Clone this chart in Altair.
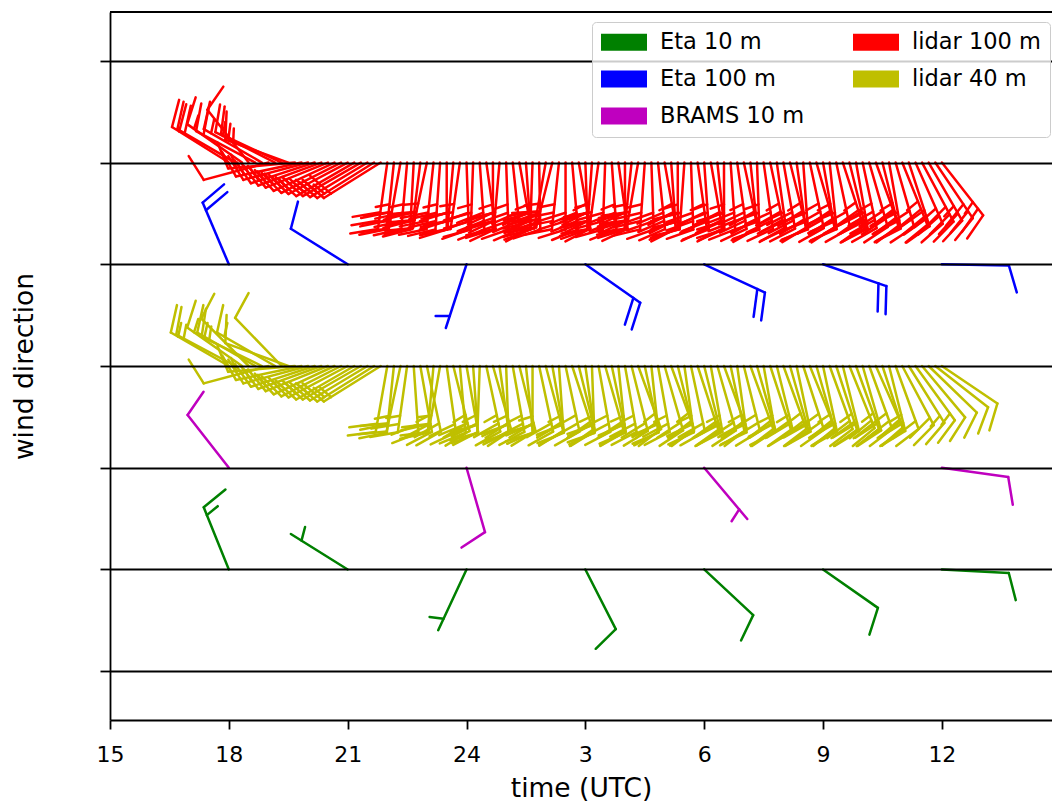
import altair as alt
import numpy as np
import pandas as pd

# ---------------- data ----------------
# time in hours from 00 UTC of the first day (27 = 03 UTC next day)
model_times = [18, 21, 24, 27, 30, 33, 36]
eta10_dir = [338, 302, 205, 153, 133, 125, 93]
eta10_spd = [15, 5, 5, 10, 10, 10, 10]
eta100_dir = [337, 302, 198, 125, 115, 109, 91]
eta100_spd = [20, 10, 5, 20, 20, 20, 10]
brams_times = [18, 24, 30, 36]
brams_dir = [322, 164, 140, 98]
brams_spd = [10, 10, 5, 10]

lidar_start = 18.0
lidar_step = 1 / 6  # 10-minute profiles

lidar100_dir = [302, 300, 305, 322, 298, 300, 255, 297, 295, 290, 265, 258,
                255, 252, 250, 248, 245, 243, 242, 240, 240, 239, 238, 238,
                188, 186, 190, 185, 183, 187, 192, 186, 184, 180, 185, 188,
                178, 182, 176, 172, 180, 185, 178, 174, 170, 176, 182, 179,
                190, 194, 186, 180, 175, 170, 178, 184, 188, 182, 176, 172,
                180, 186, 190, 184, 178, 174, 170, 176, 180, 184, 178, 172,
                176, 170, 174, 180, 176, 172, 168, 174, 178, 172, 168, 172,
                170, 166, 172, 176, 168, 164, 170, 174, 168, 162, 166, 170,
                168, 164, 160, 166, 170, 164, 158, 162, 156, 152, 150, 146,
                142]
lidar100_spd = [20, 20, 15, 10, 20, 15, 10, 15, 15, 15, 15, 15,
                15, 15, 15, 15, 15, 15, 15, 15, 15, 15, 15, 20,
                30, 35, 30, 35, 30, 30, 35, 30, 35, 30, 30, 35,
                30, 35, 30, 30, 35, 30, 35, 30, 30, 35, 30, 30,
                35, 30, 35, 30, 30, 35, 30, 35, 30, 30, 35, 30,
                30, 35, 30, 35, 30, 30, 35, 30, 35, 30, 30, 35,
                35, 30, 30, 35, 30, 35, 30, 30, 35, 30, 35, 30,
                30, 35, 30, 30, 35, 30, 35, 30, 30, 35, 30, 30,
                35, 30, 30, 35, 30, 30, 35, 30, 30, 30, 25, 30,
                25]
lidar40_dir = [300, 298, 305, 315, 300, 296, 255, 300, 316, 290, 265, 258,
               255, 252, 250, 248, 245, 243, 242, 240, 240, 239, 238, 238,
               190, 186, 192, 188, 176, 170, 168, 185, 190, 172, 166, 175,
               170, 176, 182, 168, 164, 172, 178, 170, 166, 174, 180, 168,
               165, 170, 176, 168, 162, 166, 172, 178, 170, 164, 168, 174,
               170, 166, 160, 168, 174, 170, 164, 160, 166, 172, 168, 162,
               166, 170, 164, 160, 168, 172, 166, 160, 164, 170, 162, 166,
               160, 164, 168, 162, 158, 164, 168, 160, 162, 166, 158, 160,
               164, 160, 156, 162, 166, 160, 152, 148, 144, 140, 134, 128,
               124]
lidar40_spd = [15, 15, 15, 10, 15, 15, 10, 15, 10, 10, 15, 10,
               15, 10, 15, 10, 15, 10, 15, 10, 15, 10, 15, 15,
               20, 25, 20, 25, 20, 25, 20, 20, 25, 20, 25, 20,
               25, 20, 20, 25, 20, 25, 20, 25, 20, 20, 25, 20,
               20, 25, 20, 25, 20, 20, 25, 20, 25, 20, 20, 25,
               25, 20, 25, 20, 20, 25, 20, 25, 20, 25, 20, 20,
               20, 25, 20, 20, 25, 20, 25, 20, 20, 25, 20, 25,
               25, 20, 20, 25, 20, 25, 20, 20, 25, 20, 20, 25,
               20, 25, 20, 20, 25, 20, 20, 15, 15, 10, 10, 10,
               10]
lidar_times = [lidar_start + i * lidar_step for i in range(len(lidar100_dir))]

legend_order = ["Eta 10 m", "Eta 100 m", "BRAMS 10 m", "lidar 100 m", "lidar 40 m"]
legend_colors = ["#008000", "#0000ff", "#bf00bf", "#ff0000", "#bfbf00"]
barb_order = ["lidar 100 m", "Eta 100 m", "lidar 40 m", "BRAMS 10 m", "Eta 10 m"]
barb_colors = ["#ff0000", "#0000ff", "#bfbf00", "#bf00bf", "#008000"]
series_level = {"Eta 10 m": 1, "BRAMS 10 m": 2, "lidar 40 m": 3,
                "Eta 100 m": 4, "lidar 100 m": 5}
LEVELS = [0, 1, 2, 3, 4, 5, 6]
X_TICKS = [15, 18, 21, 24, 27, 30, 33, 36]

# ---------------- layout ----------------
W, H = 942, 708
X_DOMAIN = [15, 38.78]
Y_DOMAIN = [-0.48, 6.48]
PXH = W / (X_DOMAIN[1] - X_DOMAIN[0])
PXU = H / (Y_DOMAIN[1] - Y_DOMAIN[0])

# barb geometry (matplotlib-style, in pixels)
L = 67.0
FH, FW, SP = 0.4 * L, 0.25 * L, 0.125 * L


def barb_rows(series, t, d, s):
    level = series_level[series]
    a = np.deg2rad(d)
    ux, uy = np.sin(a), np.cos(a)      # staff points to where the wind comes from
    px, py = uy, -ux                   # feathers on the clockwise side
    segs = [(0.0, 0.0, L * ux, L * uy)]
    spd = int(5 * round(s / 5))
    nbarbs = (spd % 50) // 10
    half = (spd % 10) >= 5
    off = L
    for _ in range(nbarbs):
        x0, y0 = off * ux, off * uy
        segs.append((x0, y0, x0 + FH * px + FW / 2 * ux, y0 + FH * py + FW / 2 * uy))
        off -= SP
    if half:
        if off == L:
            off -= 1.5 * SP
        x0, y0 = off * ux, off * uy
        segs.append((x0, y0, x0 + FH / 2 * px + FW / 4 * ux, y0 + FH / 2 * py + FW / 4 * uy))
    return [dict(barb=series, x=t + a0 / PXH, y=level + b0 / PXU,
                 x2=t + a1 / PXH, y2=level + b1 / PXU) for (a0, b0, a1, b1) in segs]


rows = []
for t, d, s in zip(lidar_times, lidar100_dir, lidar100_spd):
    rows += barb_rows("lidar 100 m", t, d, s)
for t, d, s in zip(lidar_times, lidar40_dir, lidar40_spd):
    rows += barb_rows("lidar 40 m", t, d, s)
for t, d, s in zip(model_times, eta100_dir, eta100_spd):
    rows += barb_rows("Eta 100 m", t, d, s)
for t, d, s in zip(model_times, eta10_dir, eta10_spd):
    rows += barb_rows("Eta 10 m", t, d, s)
for t, d, s in zip(brams_times, brams_dir, brams_spd):
    rows += barb_rows("BRAMS 10 m", t, d, s)
seg_df = pd.DataFrame(rows)

x_axis = alt.Axis(values=X_TICKS,
                  labelExpr="datum.value > 24 ? datum.value - 24 : datum.value",
                  tickSize=9, tickWidth=1.8, tickColor="black",
                  domainColor="black", domainWidth=1.8,
                  labelFontSize=22, labelColor="black", labelPadding=15,
                  labelFlush=False, grid=False,
                  title="time (UTC)", titleFontSize=26.5, titleFontWeight="normal",
                  titleColor="black", titlePadding=10)
y_axis = alt.Axis(values=LEVELS, labels=False, tickSize=10, tickWidth=1.8,
                  tickColor="black", domainColor="black", domainWidth=1.8,
                  grid=True, gridColor="black", gridWidth=2, gridOpacity=1,
                  title="wind direction", titleFontSize=26.5, titleFontWeight="normal",
                  titleColor="black", titlePadding=61, zindex=1)

barbs = alt.Chart(seg_df).mark_rule(strokeWidth=2.5, strokeCap="round").encode(
    x=alt.X("x:Q", scale=alt.Scale(domain=X_DOMAIN, nice=False, zero=False), axis=x_axis),
    x2="x2:Q",
    y=alt.Y("y:Q", scale=alt.Scale(domain=Y_DOMAIN, nice=False, zero=False), axis=y_axis),
    y2="y2:Q",
    stroke=alt.Stroke("barb:N", scale=alt.Scale(domain=barb_order, range=barb_colors),
                      legend=None),
)

frame = alt.Chart(pd.DataFrame({"frame": [1]})).mark_rule(
    color="black", strokeWidth=1.8
).encode(x=alt.value(0), x2=alt.value(W), y=alt.value(0))

legend_layer = alt.Chart(pd.DataFrame({"series": legend_order})).mark_square(
    filled=True
).encode(
    color=alt.Color("series:N", scale=alt.Scale(domain=legend_order, range=legend_colors),
                    legend=alt.Legend(
        title=None, orient="none", legendX=482, legendY=10, direction="vertical",
        columns=2, symbolType="M-1,-0.37L1,-0.37L1,0.37L-1,0.37Z", symbolSize=2116,
        symbolStrokeWidth=0, symbolOpacity=1, clipHeight=22,
        labelFontSize=22.5, labelColor="black", labelOffset=13, labelLimit=400,
        columnPadding=48, rowPadding=14, padding=9,
        fillColor="rgba(255,255,255,0.8)", strokeColor="#cccccc",
        cornerRadius=4, zindex=2))
).transform_filter("false")

chart = alt.layer(barbs, frame, legend_layer).properties(
    width=W, height=H,
    autosize=alt.AutoSizeParams(type="none"),
    padding={"left": 110, "top": 12, "right": 0, "bottom": 82},
).configure(font="DejaVu Sans").configure_view(stroke=None)

chart.save("out.html", embed_options={"renderer": "svg", "actions": False})
